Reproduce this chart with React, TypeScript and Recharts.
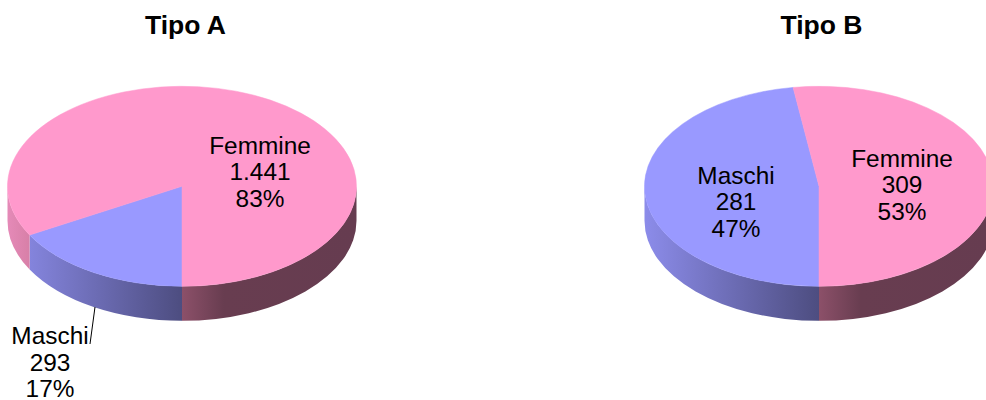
import React from 'react';
import { PieChart, Pie, Cell } from 'recharts';

const categories = ['Maschi', 'Femmine'];
const tipoAValues = [293, 1441];
const tipoBValues = [281, 309];
const tipoAValueLabels = ['293', '1.441'];
const tipoBValueLabels = ['281', '309'];
const tipoAPercentLabels = ['17%', '83%'];
const tipoBPercentLabels = ['47%', '53%'];

const FONT = '"Liberation Sans", Arial, sans-serif';
const TILT = 100 / 174.5;
const DEPTH = 34.5;
const RADIUS = 174.5;
const COLORS = ['#9999ff', '#ff99cc'];

const toRows = (values: number[], valueLabels: string[], percentLabels: string[]) =>
    categories.map((name, i) => ({
        name,
        value: values[i],
        valueLabel: valueLabels[i],
        percentLabel: percentLabels[i],
    }));

const tipoAData = toRows(tipoAValues, tipoAValueLabels, tipoAPercentLabels);
const tipoBData = toRows(tipoBValues, tipoBValueLabels, tipoBPercentLabels);

const point = (cx: number, cy: number, r: number, deg: number, dy = 0) => {
    const a = (deg * Math.PI) / 180;
    return `${cx + r * Math.cos(a)} ${cy - r * TILT * Math.sin(a) + dy}`;
};

// squashed sector + the visible part of the side wall
const makeSlice = (wallIds: string[]) => (props: any) => {
    const { cx, cy, outerRadius: r, startAngle: s, endAngle: e, fill, index } = props;
    const ry = r * TILT;
    const large = s - e > 180 ? 1 : 0;
    const top = `M ${cx} ${cy} L ${point(cx, cy, r, s)} A ${r} ${ry} 0 ${large} 1 ${point(cx, cy, r, e)} Z`;

    const walls: string[] = [];
    [[180, 360], [-180, 0]].forEach(([lo, hi]) => {
        const a1 = Math.min(s, hi);
        const a2 = Math.max(e, lo);
        if (a1 <= a2) return;
        walls.push(
            `M ${point(cx, cy, r, a1)} A ${r} ${ry} 0 0 1 ${point(cx, cy, r, a2)} ` +
            `L ${point(cx, cy, r, a2, DEPTH)} A ${r} ${ry} 0 0 0 ${point(cx, cy, r, a1, DEPTH)} Z`
        );
    });

    return (
        <g>
            {walls.map((d, i) => <path key={i} d={d} fill={`url(#${wallIds[index]})`} />)}
            <path d={top} fill={fill} stroke={fill} strokeWidth={0.5} />
        </g>
    );
};

const makeLabel = (positions: number[][], leader?: number[]) => (props: any) => {
    const { index, payload } = props;
    const row = payload.payload ?? payload;
    const [x, y] = positions[index];
    const lines = [row.name, row.valueLabel, row.percentLabel];
    return (
        <g>
            {index === 0 && leader && (
                <line x1={leader[0]} y1={leader[1]} x2={leader[2]} y2={leader[3]} stroke="#000" strokeWidth={1} />
            )}
            <text x={x} y={y} textAnchor="middle" fontFamily={FONT} fontSize={24.4} fill="#000">
                {lines.map((t, i) => <tspan key={i} x={x} dy={i === 0 ? 0 : 26.7}>{t}</tspan>)}
            </text>
        </g>
    );
};

const WallGradients = ({ id, cx }: { id: string; cx: number }) => (
    <>
        <linearGradient id={`blue${id}`} gradientUnits="userSpaceOnUse" x1={cx - RADIUS} x2={cx} y1={0} y2={0}>
            <stop offset="0" stopColor="#8c8cea" />
            <stop offset="1" stopColor="#4d4d80" />
        </linearGradient>
        <linearGradient id={`pink${id}`} gradientUnits="userSpaceOnUse" x1={cx - RADIUS} x2={cx + RADIUS} y1={0} y2={0}>
            <stop offset="0" stopColor="#e58ab8" />
            <stop offset="0.06" stopColor="#d880a8" />
            <stop offset="0.5" stopColor="#d880a8" />
            <stop offset="0.5" stopColor="#8c5069" />
            <stop offset="0.62" stopColor="#683d50" />
            <stop offset="1" stopColor="#663c50" />
        </linearGradient>
    </>
);

const Title = ({ x, children }: { x: number; children: string }) => (
    <text x={x} y={34} textAnchor="middle" fontFamily={FONT} fontSize={26.5} fontWeight="bold" fill="#000">
        {children}
    </text>
);

export default function App() {
    return (
        <div style={{ position: 'absolute', left: 0, top: 0, width: 986, height: 400, background: '#fff' }}>
            <PieChart width={986} height={400} margin={{ top: 0, right: 0, bottom: 0, left: 0 }}>
                <defs>
                    <WallGradients id="A" cx={182} />
                    <WallGradients id="B" cx={819} />
                </defs>
                <Title x={185.5}>Tipo A</Title>
                <Title x={821.5}>Tipo B</Title>
                <Pie
                    data={tipoAData}
                    dataKey="value"
                    nameKey="name"
                    cx={182}
                    cy={186.3}
                    outerRadius={RADIUS}
                    startAngle={270}
                    endAngle={-90}
                    stroke="none"
                    isAnimationActive={false}
                    shape={makeSlice(['blueA', 'pinkA'])}
                    labelLine={false}
                    label={makeLabel([[50, 344], [260, 153.7]], [95, 307, 90, 344])}
                >
                    {tipoAData.map((_, i) => <Cell key={i} fill={COLORS[i]} />)}
                </Pie>
                <Pie
                    data={tipoBData}
                    dataKey="value"
                    nameKey="name"
                    cx={819}
                    cy={186.3}
                    outerRadius={RADIUS}
                    startAngle={270}
                    endAngle={-90}
                    stroke="none"
                    isAnimationActive={false}
                    shape={makeSlice(['blueB', 'pinkB'])}
                    labelLine={false}
                    label={makeLabel([[736, 183.7], [902, 166.7]])}
                >
                    {tipoBData.map((_, i) => <Cell key={i} fill={COLORS[i]} />)}
                </Pie>
            </PieChart>
        </div>
    );
}
